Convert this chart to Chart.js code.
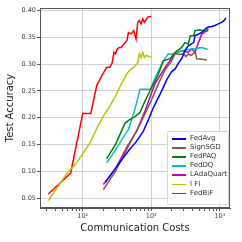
<!DOCTYPE html>
<html>
<head>
<meta charset="utf-8">
<script src="https://cdn.jsdelivr.net/npm/chart.js@4.4.1/dist/chart.umd.min.js"></script>
<style>
  html, body { margin: 0; padding: 0; background: #fff; }
  #wrap { position: relative; width: 242px; height: 242px; }
  #legend {
    position: absolute; left: 167px; top: 131px; width: 60px; height: 72px;
    background: rgba(255,255,255,0.9); border: 1px solid #d8d8d8; border-radius: 2px;
    font-family: "DejaVu Sans", sans-serif; font-size: 7px; color: #333;
  }
  .item { position: absolute; left: 0; height: 9px; line-height: 9px; white-space: nowrap; }
  .item i { position: absolute; left: 4px; top: 4px; width: 14px; height: 1.6px; }
  .item span { position: absolute; left: 22px; top: 0; }
</style>
</head>
<body>
<div id="wrap">
  <canvas id="grafica" width="242" height="242"></canvas>
  <div id="legend"></div>
</div>
<script>
// datos (x = coste de comunicacion, y = test accuracy)
const labels = ['FedAvg', 'SignSGD', 'FedPAQ', 'FedDQ', 'LAdaQuart', 'I FI', 'FedBiF'];
const colores = ['#0000ff', '#8c564b', '#008000', '#00bfbf', '#bf00bf', '#bfbf00', '#ff0000'];

const avgX = [215, 331, 464, 600, 768, 900, 1075, 1420, 1700, 1990, 2230, 2500, 2780, 3100, 3470, 3900, 4160, 4350, 4800, 5460, 6100, 6800, 7600, 8550, 9500, 10700, 11500, 12300];
const avgY = [0.080, 0.113, 0.138, 0.155, 0.175, 0.195, 0.219, 0.250, 0.272, 0.286, 0.291, 0.302, 0.310, 0.325, 0.334, 0.338, 0.340, 0.353, 0.355, 0.359, 0.365, 0.369, 0.370, 0.372, 0.375, 0.378, 0.381, 0.386];

const signX = [200, 300, 450, 687, 1000, 1270, 1600, 1990, 2230, 2500, 2950, 3200, 3470, 3800, 4160, 4400, 4600, 5500, 6500];
const signY = [0.066, 0.100, 0.144, 0.188, 0.232, 0.263, 0.290, 0.306, 0.320, 0.318, 0.319, 0.314, 0.319, 0.316, 0.320, 0.322, 0.310, 0.309, 0.3075];

const paqX = [224, 300, 415, 490, 580, 687, 811, 1000, 1270, 1500, 1880, 2230, 2780, 3100, 3470, 3720, 4160, 4350, 5140, 6100, 6800];
const paqY = [0.124, 0.150, 0.190, 0.197, 0.202, 0.210, 0.231, 0.255, 0.281, 0.306, 0.310, 0.322, 0.331, 0.340, 0.3375, 0.353, 0.353, 0.3625, 0.364, 0.361, 0.3625];

const dqX = [224, 300, 464, 560, 687, 962, 1200, 1500, 1780, 2230, 2780, 3900, 5460, 6800];
const dqY = [0.116, 0.140, 0.178, 0.210, 0.253, 0.253, 0.280, 0.306, 0.319, 0.319, 0.325, 0.328, 0.331, 0.327];

const ladaX = [200, 300, 450, 614, 811, 1130, 1590, 2230, 2780, 3470, 3900, 4350, 4880, 5460, 6500, 6800];
const ladaY = [0.0755, 0.105, 0.147, 0.175, 0.2125, 0.263, 0.294, 0.319, 0.325, 0.322, 0.328, 0.322, 0.340, 0.356, 0.3625, 0.366];

const ifiX = [31.5, 40, 58, 80, 100, 128, 160, 200, 250, 300, 363, 430, 479, 567, 635, 671, 710, 751, 794, 850, 930, 1000];
const ifiY = [0.0455, 0.065, 0.095, 0.115, 0.133, 0.153, 0.180, 0.203, 0.222, 0.240, 0.262, 0.280, 0.288, 0.295, 0.302, 0.319, 0.312, 0.322, 0.3125, 0.316, 0.314, 0.3125];

const bifX = [31.5, 66.8, 100, 131, 160, 189, 224, 250, 270, 285, 300, 320, 340, 363, 443, 464, 507, 555, 600, 635, 671, 709, 751, 794, 890, 1000];
const bifY = [0.058, 0.097, 0.208, 0.208, 0.260, 0.278, 0.294, 0.294, 0.303, 0.322, 0.319, 0.328, 0.331, 0.331, 0.344, 0.359, 0.356, 0.3625, 0.347, 0.378, 0.381, 0.375, 0.384, 0.378, 0.3875, 0.389];

const yTicks = [0.05, 0.10, 0.15, 0.20, 0.25, 0.30, 0.35, 0.40];
const xTickLabels = { 100: '10²', 1000: '10³', 10000: '10⁴' };

const series = [[avgX, avgY], [signX, signY], [paqX, paqY], [dqX, dqY], [ladaX, ladaY], [ifiX, ifiY], [bifX, bifY]];

const esMayor = v => Math.abs(Math.log10(v) - Math.round(Math.log10(v))) < 1e-6;

// marco completo (arriba y derecha tambien)
const marco = {
  id: 'marco',
  afterDraw(chart) {
    const { ctx, chartArea: a } = chart;
    ctx.save();
    ctx.strokeStyle = '#555';
    ctx.lineWidth = 1;
    ctx.strokeRect(Math.round(a.left) + 0.5, Math.round(a.top) + 0.5, Math.round(a.right - a.left) - 1, Math.round(a.bottom - a.top) - 1);
    ctx.restore();
  }
};

new Chart(document.getElementById('grafica'), {
  type: 'scatter',
  data: {
    datasets: series.map((s, i) => ({
      label: labels[i],
      data: s[0].map((x, j) => ({ x: x, y: s[1][j] })),
      borderColor: colores[i],
      backgroundColor: colores[i],
      borderWidth: 1.5,
      showLine: true,
      pointRadius: 0,
      tension: 0
    }))
  },
  options: {
    responsive: false,
    animation: false,
    devicePixelRatio: 1,
    layout: { padding: { top: 8, right: 12, left: 0, bottom: 0 } },
    plugins: { legend: { display: false }, tooltip: { enabled: false } },
    scales: {
      x: {
        type: 'logarithmic',
        min: 23.8,
        max: 14100,
        afterBuildTicks: scale => {
          scale.ticks = scale.ticks.filter(t => {
            const e = Math.pow(10, Math.floor(Math.log10(t.value)));
            const s = t.value / e;
            return Math.abs(s - Math.round(s)) < 1e-6;
          });
        },
        afterFit: scale => { scale.height = 34; },
        ticks: {
          autoSkip: false,
          maxRotation: 0,
          padding: 1,
          color: '#444',
          font: { family: 'DejaVu Sans', size: 6.5 },
          callback: v => xTickLabels[Math.round(v)] || ''
        },
        grid: {
          color: ctx => (ctx.tick && esMayor(ctx.tick.value)) ? '#d0d0d0' : 'rgba(0,0,0,0)',
          tickColor: '#555',
          tickLength: 3
        },
        border: { color: '#555' },
        title: {
          display: true,
          text: 'Communication Costs',
          color: '#222',
          font: { family: 'DejaVu Sans', size: 10 },
          padding: { top: 0, bottom: 8 }
        }
      },
      y: {
        min: 0.0318,
        max: 0.4045,
        afterBuildTicks: scale => {
          scale.ticks = yTicks.map(v => ({ value: v }));
        },
        afterFit: scale => { scale.width = 40; },
        ticks: {
          padding: 1,
          color: '#444',
          font: { family: 'DejaVu Sans', size: 6.5 },
          callback: v => Number(v).toFixed(2)
        },
        grid: { color: '#d0d0d0', tickColor: '#555', tickLength: 3 },
        border: { color: '#555' },
        title: {
          display: true,
          text: 'Test Accuracy',
          color: '#222',
          font: { family: 'DejaVu Sans', size: 10 },
          padding: { top: 4, bottom: 0 }
        }
      }
    }
  },
  plugins: [marco]
});

// leyenda dentro del area, abajo a la derecha
const leyenda = document.getElementById('legend');
labels.forEach((nombre, i) => {
  const d = document.createElement('div');
  d.className = 'item';
  d.style.top = (2 + i * 9.1) + 'px';
  d.innerHTML = '<i style="background:' + colores[i] + '"></i><span>' + nombre + '</span>';
  leyenda.appendChild(d);
});
</script>
</body>
</html>
